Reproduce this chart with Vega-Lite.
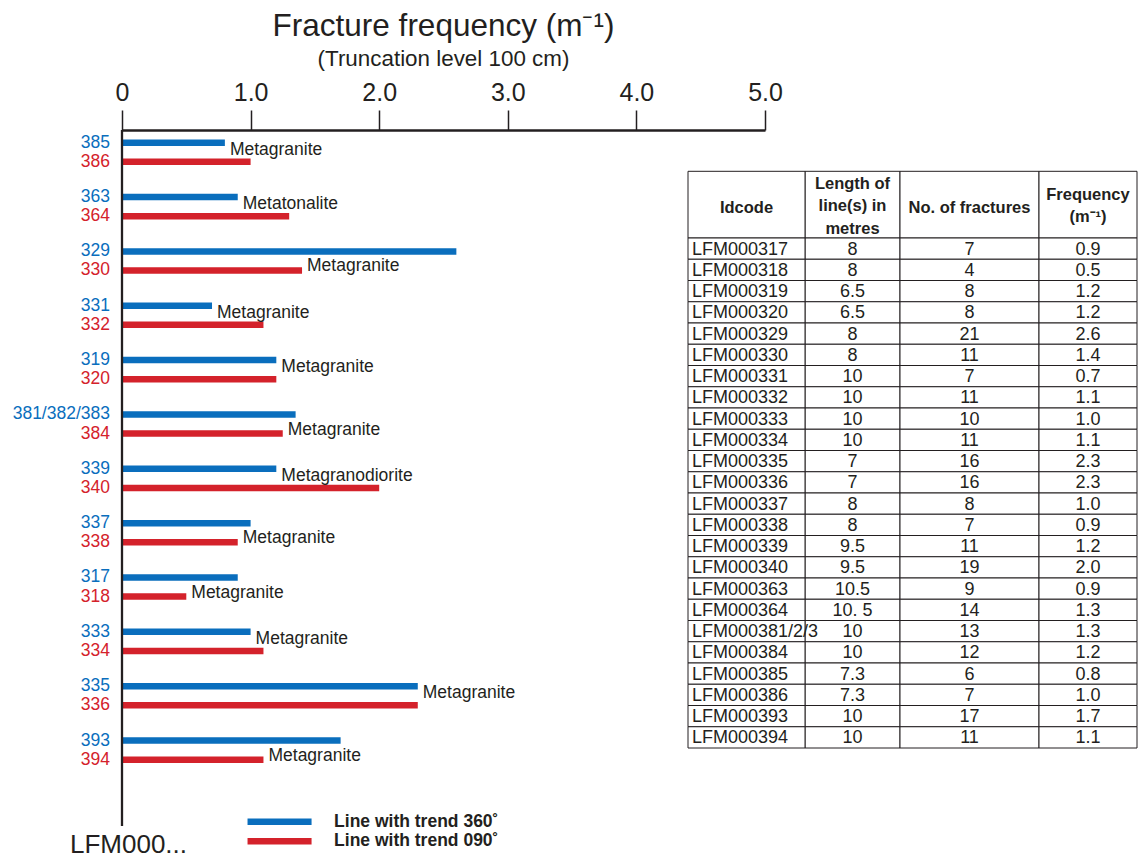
{
  "$schema": "https://vega.github.io/schema/vega-lite/v6.json",
  "width": 643,
  "height": 696,
  "autosize": "none",
  "padding": {"left": 122, "top": 130, "right": 373, "bottom": 31},
  "background": "white",
  "config": {"view": {"stroke": null}, "font": "Liberation Sans"},
  "title": {
    "text": "Fracture frequency (m⁻¹)",
    "subtitle": "(Truncation level 100 cm)",
    "font": "Liberation Sans",
    "fontSize": 31.5,
    "fontWeight": "normal",
    "color": "#231f20",
    "subtitleFont": "Liberation Sans",
    "subtitleFontSize": 22.4,
    "subtitleColor": "#231f20",
    "subtitlePadding": 5,
    "anchor": "middle",
    "offset": 10
  },
  "datasets": {
    "bars": [
      {"pair": "385/386", "bar": "385", "series": "Line with trend 360˚", "freq": 0.8, "rock": "Metagranite"},
      {"pair": "385/386", "bar": "386", "series": "Line with trend 090˚", "freq": 1.0, "rock": ""},
      {"pair": "363/364", "bar": "363", "series": "Line with trend 360˚", "freq": 0.9, "rock": "Metatonalite"},
      {"pair": "363/364", "bar": "364", "series": "Line with trend 090˚", "freq": 1.3, "rock": ""},
      {"pair": "329/330", "bar": "329", "series": "Line with trend 360˚", "freq": 2.6, "rock": ""},
      {"pair": "329/330", "bar": "330", "series": "Line with trend 090˚", "freq": 1.4, "rock": "Metagranite"},
      {"pair": "331/332", "bar": "331", "series": "Line with trend 360˚", "freq": 0.7, "rock": "Metagranite"},
      {"pair": "331/332", "bar": "332", "series": "Line with trend 090˚", "freq": 1.1, "rock": ""},
      {"pair": "319/320", "bar": "319", "series": "Line with trend 360˚", "freq": 1.2, "rock": "Metagranite"},
      {"pair": "319/320", "bar": "320", "series": "Line with trend 090˚", "freq": 1.2, "rock": ""},
      {"pair": "381/382/383/384", "bar": "381/382/383", "series": "Line with trend 360˚", "freq": 1.35, "rock": ""},
      {"pair": "381/382/383/384", "bar": "384", "series": "Line with trend 090˚", "freq": 1.25, "rock": "Metagranite"},
      {"pair": "339/340", "bar": "339", "series": "Line with trend 360˚", "freq": 1.2, "rock": "Metagranodiorite"},
      {"pair": "339/340", "bar": "340", "series": "Line with trend 090˚", "freq": 2.0, "rock": ""},
      {"pair": "337/338", "bar": "337", "series": "Line with trend 360˚", "freq": 1.0, "rock": ""},
      {"pair": "337/338", "bar": "338", "series": "Line with trend 090˚", "freq": 0.9, "rock": "Metagranite"},
      {"pair": "317/318", "bar": "317", "series": "Line with trend 360˚", "freq": 0.9, "rock": ""},
      {"pair": "317/318", "bar": "318", "series": "Line with trend 090˚", "freq": 0.5, "rock": "Metagranite"},
      {"pair": "333/334", "bar": "333", "series": "Line with trend 360˚", "freq": 1.0, "rock": "Metagranite"},
      {"pair": "333/334", "bar": "334", "series": "Line with trend 090˚", "freq": 1.1, "rock": ""},
      {"pair": "335/336", "bar": "335", "series": "Line with trend 360˚", "freq": 2.3, "rock": "Metagranite"},
      {"pair": "335/336", "bar": "336", "series": "Line with trend 090˚", "freq": 2.3, "rock": ""},
      {"pair": "393/394", "bar": "393", "series": "Line with trend 360˚", "freq": 1.7, "rock": ""},
      {"pair": "393/394", "bar": "394", "series": "Line with trend 090˚", "freq": 1.1, "rock": "Metagranite"}
    ],
    "table": [
      {"id": "LFM000317", "len": "8", "n": "7", "f": "0.9"},
      {"id": "LFM000318", "len": "8", "n": "4", "f": "0.5"},
      {"id": "LFM000319", "len": "6.5", "n": "8", "f": "1.2"},
      {"id": "LFM000320", "len": "6.5", "n": "8", "f": "1.2"},
      {"id": "LFM000329", "len": "8", "n": "21", "f": "2.6"},
      {"id": "LFM000330", "len": "8", "n": "11", "f": "1.4"},
      {"id": "LFM000331", "len": "10", "n": "7", "f": "0.7"},
      {"id": "LFM000332", "len": "10", "n": "11", "f": "1.1"},
      {"id": "LFM000333", "len": "10", "n": "10", "f": "1.0"},
      {"id": "LFM000334", "len": "10", "n": "11", "f": "1.1"},
      {"id": "LFM000335", "len": "7", "n": "16", "f": "2.3"},
      {"id": "LFM000336", "len": "7", "n": "16", "f": "2.3"},
      {"id": "LFM000337", "len": "8", "n": "8", "f": "1.0"},
      {"id": "LFM000338", "len": "8", "n": "7", "f": "0.9"},
      {"id": "LFM000339", "len": "9.5", "n": "11", "f": "1.2"},
      {"id": "LFM000340", "len": "9.5", "n": "19", "f": "2.0"},
      {"id": "LFM000363", "len": "10.5", "n": "9", "f": "0.9"},
      {"id": "LFM000364", "len": "10. 5", "n": "14", "f": "1.3"},
      {"id": "LFM000381/2/3", "len": "10", "n": "13", "f": "1.3"},
      {"id": "LFM000384", "len": "10", "n": "12", "f": "1.2"},
      {"id": "LFM000385", "len": "7.3", "n": "6", "f": "0.8"},
      {"id": "LFM000386", "len": "7.3", "n": "7", "f": "1.0"},
      {"id": "LFM000393", "len": "10", "n": "17", "f": "1.7"},
      {"id": "LFM000394", "len": "10", "n": "11", "f": "1.1"}
    ]
  },
  "layer": [
    {
      "data": {"name": "bars"},
      "encoding": {
        "y": {
          "field": "pair", "type": "nominal", "sort": null,
          "scale": {
            "domain": ["385/386", "363/364", "329/330", "331/332", "319/320", "381/382/383/384", "339/340", "337/338", "317/318", "333/334", "335/336", "393/394"],
            "range": [-4.93, 647.27], "paddingInner": 0, "paddingOuter": 0
          },
          "axis": {
            "orient": "left", "domain": false, "ticks": false, "labels": false, "grid": false,
            "title": "LFM000...", "titleAngle": 0, "titleX": 6, "titleY": 722,
            "titleAlign": "center", "titleBaseline": "alphabetic",
            "titleFont": "Liberation Sans", "titleFontSize": 26, "titleFontWeight": "normal", "titleColor": "#231f20"
          }
        },
        "yOffset": {
          "field": "series", "type": "nominal",
          "scale": {"domain": ["Line with trend 360˚", "Line with trend 090˚"], "paddingInner": 0.66, "paddingOuter": 0.753}
        }
      },
      "layer": [
        {
          "mark": {"type": "bar", "cornerRadius": 0},
          "encoding": {
            "x": {
              "field": "freq", "type": "quantitative",
              "scale": {"domain": [0, 5], "nice": false, "zero": true},
              "axis": {
                "orient": "top", "values": [0, 1, 2, 3, 4, 5],
                "labelExpr": "datum.value == 0 ? '0' : format(datum.value, '.1f')",
                "title": null, "grid": false,
                "domainColor": "#231f20", "domainWidth": 2.5,
                "tickColor": "#231f20", "tickWidth": 1.5, "tickSize": 20,
                "labelFont": "Liberation Sans", "labelFontSize": 25, "labelColor": "#231f20",
                "labelPadding": 5, "labelFlush": false, "labelOverlap": false, "labelBound": false
              }
            },
            "color": {
              "field": "series", "type": "nominal",
              "scale": {"domain": ["Line with trend 360˚", "Line with trend 090˚"], "range": ["#0a6ebd", "#d4222b"]},
              "legend": {
                "orient": "none", "legendX": 148.8, "legendY": 683, "title": null,
                "symbolType": "M-10,-1H10V1H-10Z", "symbolSize": 41, "symbolStrokeWidth": 0, "symbolOpacity": 1,
                "labelFont": "Liberation Sans", "labelFontSize": 17.5, "labelFontWeight": "bold", "labelColor": "#231f20",
                "labelOffset": 45.8, "labelLimit": 400, "rowPadding": 0.5, "padding": 0
              }
            }
          }
        },
        {
          "mark": {"type": "text", "align": "right", "baseline": "middle", "dx": -12, "fontSize": 17.5, "font": "Liberation Sans"},
          "encoding": {
            "x": {"datum": 0, "type": "quantitative"},
            "text": {"field": "bar"},
            "color": {"field": "series", "type": "nominal", "legend": null}
          }
        },
        {
          "transform": [{"filter": "datum.rock != '' && datum.series == 'Line with trend 360˚'"}],
          "mark": {"type": "text", "align": "left", "baseline": "alphabetic", "dx": 5, "dy": 12, "fontSize": 17.5, "font": "Liberation Sans", "color": "#231f20"},
          "encoding": {
            "x": {"field": "freq", "type": "quantitative"},
            "text": {"field": "rock"}
          }
        },
        {
          "transform": [{"filter": "datum.rock != '' && datum.series == 'Line with trend 090˚'"}],
          "mark": {"type": "text", "align": "left", "baseline": "alphabetic", "dx": 5, "dy": 1, "fontSize": 17.5, "font": "Liberation Sans", "color": "#231f20"},
          "encoding": {
            "x": {"field": "freq", "type": "quantitative"},
            "text": {"field": "rock"}
          }
        }
      ]
    },
    {
      "data": {"values": [{}]},
      "mark": {"type": "rule", "stroke": "#231f20", "strokeWidth": 2.3},
      "encoding": {"x": {"datum": 0, "type": "quantitative", "scale": {"domain": [0, 5], "nice": false}, "axis": null}}
    },
    {
      "layer": [
        {
          "data": {"values": [{}]},
          "encoding": {
            "x": {"datum": "len", "type": "nominal", "scale": {"domain": ["len"], "range": [683, 778], "paddingInner": 0, "paddingOuter": 0}, "axis": null},
            "y": {"datum": "head", "type": "nominal", "scale": {"domain": ["head"], "range": [41.3, 108], "paddingInner": 0, "paddingOuter": 0}, "axis": null}
          },
          "layer": [
            {"mark": {"type": "rect", "fill": "white", "stroke": "#231f20", "strokeWidth": 1}},
            {"mark": {"type": "text", "text": ["Length of", "line(s) in", "metres"], "lineHeight": 22.5, "fontSize": 16.5, "fontWeight": "bold", "font": "Liberation Sans", "baseline": "middle", "dy": -21, "color": "#231f20"}}
          ]
        },
        {
          "data": {"name": "table"},
          "encoding": {
            "x": {"datum": "len", "type": "nominal", "scale": {"domain": ["len"], "range": [683, 778], "paddingInner": 0, "paddingOuter": 0}, "axis": null},
            "y": {"field": "id", "type": "nominal", "sort": null, "scale": {"range": [108, 618], "paddingInner": 0, "paddingOuter": 0}, "axis": null}
          },
          "layer": [
            {"mark": {"type": "rect", "fill": "white", "stroke": "#231f20", "strokeWidth": 1}},
            {"mark": {"type": "text", "baseline": "middle", "dy": 1, "fontSize": 18, "font": "Liberation Sans", "color": "#231f20"}, "encoding": {"text": {"field": "len"}}}
          ]
        }
      ],
      "resolve": {"scale": {"y": "independent"}}
    },
    {
      "layer": [
        {
          "data": {"values": [{}]},
          "encoding": {
            "x": {"datum": "n", "type": "nominal", "scale": {"domain": ["n"], "range": [778, 917], "paddingInner": 0, "paddingOuter": 0}, "axis": null},
            "y": {"datum": "head", "type": "nominal", "scale": {"domain": ["head"], "range": [41.3, 108], "paddingInner": 0, "paddingOuter": 0}, "axis": null}
          },
          "layer": [
            {"mark": {"type": "rect", "fill": "white", "stroke": "#231f20", "strokeWidth": 1}},
            {"mark": {"type": "text", "text": "No. of fractures", "fontSize": 16.5, "fontWeight": "bold", "font": "Liberation Sans", "baseline": "middle", "dy": 3, "color": "#231f20"}}
          ]
        },
        {
          "data": {"name": "table"},
          "encoding": {
            "x": {"datum": "n", "type": "nominal", "scale": {"domain": ["n"], "range": [778, 917], "paddingInner": 0, "paddingOuter": 0}, "axis": null},
            "y": {"field": "id", "type": "nominal", "sort": null, "scale": {"range": [108, 618], "paddingInner": 0, "paddingOuter": 0}, "axis": null}
          },
          "layer": [
            {"mark": {"type": "rect", "fill": "white", "stroke": "#231f20", "strokeWidth": 1}},
            {"mark": {"type": "text", "baseline": "middle", "dy": 1, "fontSize": 18, "font": "Liberation Sans", "color": "#231f20"}, "encoding": {"text": {"field": "n"}}}
          ]
        }
      ],
      "resolve": {"scale": {"y": "independent"}}
    },
    {
      "layer": [
        {
          "data": {"values": [{}]},
          "encoding": {
            "x": {"datum": "f", "type": "nominal", "scale": {"domain": ["f"], "range": [917, 1015], "paddingInner": 0, "paddingOuter": 0}, "axis": null},
            "y": {"datum": "head", "type": "nominal", "scale": {"domain": ["head"], "range": [41.3, 108], "paddingInner": 0, "paddingOuter": 0}, "axis": null}
          },
          "layer": [
            {"mark": {"type": "rect", "fill": "white", "stroke": "#231f20", "strokeWidth": 1}},
            {"mark": {"type": "text", "text": ["Frequency", "(m⁻¹)"], "lineHeight": 22.5, "fontSize": 16.5, "fontWeight": "bold", "font": "Liberation Sans", "baseline": "middle", "dy": -10, "color": "#231f20"}}
          ]
        },
        {
          "data": {"name": "table"},
          "encoding": {
            "x": {"datum": "f", "type": "nominal", "scale": {"domain": ["f"], "range": [917, 1015], "paddingInner": 0, "paddingOuter": 0}, "axis": null},
            "y": {"field": "id", "type": "nominal", "sort": null, "scale": {"range": [108, 618], "paddingInner": 0, "paddingOuter": 0}, "axis": null}
          },
          "layer": [
            {"mark": {"type": "rect", "fill": "white", "stroke": "#231f20", "strokeWidth": 1}},
            {"mark": {"type": "text", "baseline": "middle", "dy": 1, "fontSize": 18, "font": "Liberation Sans", "color": "#231f20"}, "encoding": {"text": {"field": "f"}}}
          ]
        }
      ],
      "resolve": {"scale": {"y": "independent"}}
    },
    {
      "layer": [
        {
          "data": {"values": [{}]},
          "encoding": {
            "x": {"datum": "Idcode", "type": "nominal", "scale": {"domain": ["Idcode"], "range": [566, 683], "paddingInner": 0, "paddingOuter": 0}, "axis": null},
            "y": {"datum": "head", "type": "nominal", "scale": {"domain": ["head"], "range": [41.3, 108], "paddingInner": 0, "paddingOuter": 0}, "axis": null}
          },
          "layer": [
            {"mark": {"type": "rect", "fill": "white", "stroke": "#231f20", "strokeWidth": 1}},
            {"mark": {"type": "text", "text": "Idcode", "fontSize": 16.5, "fontWeight": "bold", "font": "Liberation Sans", "baseline": "middle", "dy": 3, "color": "#231f20"}}
          ]
        },
        {
          "data": {"name": "table"},
          "encoding": {
            "x": {"datum": "Idcode", "type": "nominal", "scale": {"domain": ["Idcode"], "range": [566, 683], "paddingInner": 0, "paddingOuter": 0}, "axis": null},
            "y": {"field": "id", "type": "nominal", "sort": null, "scale": {"range": [108, 618], "paddingInner": 0, "paddingOuter": 0}, "axis": null}
          },
          "layer": [
            {"mark": {"type": "rect", "fill": "white", "stroke": "#231f20", "strokeWidth": 1}},
            {"mark": {"type": "text", "align": "left", "baseline": "middle", "dx": -54.5, "dy": 1, "fontSize": 18, "font": "Liberation Sans", "color": "#231f20"}, "encoding": {"text": {"field": "id"}}}
          ]
        }
      ],
      "resolve": {"scale": {"y": "independent"}}
    }
  ],
  "resolve": {"scale": {"x": "independent", "y": "independent", "color": "independent", "yOffset": "independent"}}
}
